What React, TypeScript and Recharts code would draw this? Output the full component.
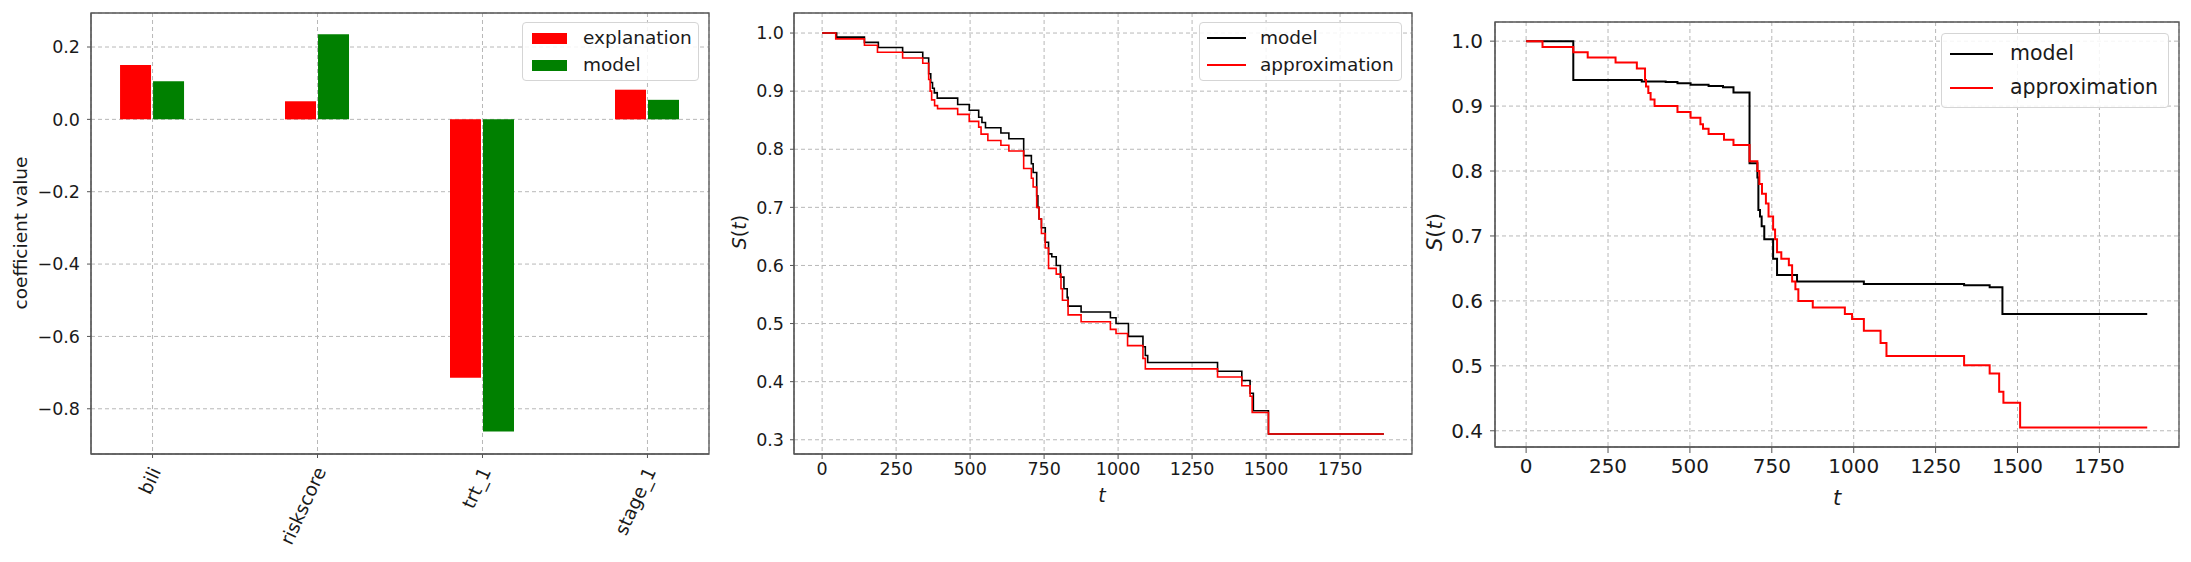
import React from 'react';
import { BarChart, Bar, LineChart, Line, XAxis, YAxis, CartesianGrid, Legend, ReferenceArea } from 'recharts';

const FONT = '"DejaVu Sans", Verdana, sans-serif';
const GRID = '#b8b8b8';
const FRAME = '#555555';
const TXT = '#1a1a1a';

// ---------- panel 1 : coefficients ----------
const featureNames = ['bili', 'riskscore', 'trt_1', 'stage_1'];
const explanationCoef = [0.15, 0.05, -0.714, 0.082];
const modelCoef = [0.105, 0.235, -0.863, 0.054];
const coefTicks = [-0.8, -0.6, -0.4, -0.2, 0.0, 0.2];

// ---------- shared time ticks ----------
const timeTicks = [0, 250, 500, 750, 1000, 1250, 1500, 1750];

// ---------- panel 2 : survival (model vs approximation) ----------
const midTicks = [0.3, 0.4, 0.5, 0.6, 0.7, 0.8, 0.9, 1.0];
const midModelT = [0, 49, 143, 190, 272, 340, 360, 367, 373, 379, 389, 458, 497, 529, 540, 552, 604, 631, 681, 707, 713, 725, 729, 733, 741, 754, 765, 776, 791, 805, 817, 828, 831, 875, 974, 993, 1035, 1084, 1092, 1100, 1336, 1418, 1446, 1457, 1508, 1898];
const midModelS = [1.0, 0.993, 0.984, 0.975, 0.967, 0.957, 0.93, 0.915, 0.905, 0.897, 0.888, 0.877, 0.867, 0.855, 0.846, 0.837, 0.828, 0.818, 0.789, 0.775, 0.76, 0.72, 0.70, 0.68, 0.665, 0.64, 0.62, 0.615, 0.60, 0.58, 0.56, 0.545, 0.53, 0.52, 0.51, 0.50, 0.478, 0.46, 0.445, 0.433, 0.418, 0.402, 0.38, 0.35, 0.31, 0.31];
const midApproxT = [0, 46, 143, 187, 272, 340, 360, 365, 370, 380, 390, 458, 497, 529, 537, 560, 604, 631, 681, 707, 713, 725, 733, 741, 754, 765, 791, 807, 812, 831, 875, 974, 993, 1032, 1084, 1092, 1336, 1418, 1446, 1453, 1508, 1898];
const midApproxS = [1.0, 0.99, 0.979, 0.967, 0.957, 0.948, 0.92, 0.90, 0.885, 0.875, 0.87, 0.86, 0.848, 0.838, 0.826, 0.815, 0.807, 0.797, 0.767, 0.75, 0.735, 0.70, 0.68, 0.655, 0.63, 0.595, 0.585, 0.56, 0.54, 0.515, 0.503, 0.49, 0.483, 0.462, 0.44, 0.422, 0.408, 0.393, 0.375, 0.347, 0.31, 0.31];

// ---------- panel 3 : survival (model vs approximation) ----------
const rightTicks = [0.4, 0.5, 0.6, 0.7, 0.8, 0.9, 1.0];
const rightModelT = [0, 144, 353, 426, 462, 502, 557, 601, 633, 682, 706, 709, 714, 719, 727, 754, 766, 827, 1031, 1337, 1415, 1454, 1896];
const rightModelS = [1.0, 0.94, 0.938, 0.937, 0.935, 0.933, 0.931, 0.929, 0.921, 0.812, 0.79, 0.74, 0.73, 0.715, 0.695, 0.665, 0.64, 0.63, 0.626, 0.624, 0.621, 0.58, 0.58];
const rightApproxT = [0, 50, 144, 188, 273, 338, 363, 366, 373, 380, 392, 462, 502, 532, 540, 557, 604, 633, 682, 706, 712, 720, 732, 740, 754, 760, 766, 779, 802, 812, 822, 831, 875, 973, 995, 1031, 1082, 1100, 1337, 1415, 1444, 1457, 1508, 1896];
const rightApproxS = [1.0, 0.991, 0.983, 0.975, 0.967, 0.958, 0.94, 0.93, 0.92, 0.91, 0.90, 0.891, 0.882, 0.872, 0.865, 0.857, 0.848, 0.84, 0.815, 0.80, 0.78, 0.765, 0.75, 0.73, 0.71, 0.695, 0.675, 0.665, 0.655, 0.63, 0.618, 0.60, 0.59, 0.58, 0.572, 0.554, 0.535, 0.515, 0.501, 0.488, 0.46, 0.443, 0.405, 0.405];

const zip = (t: number[], s: number[]) => t.map((v, i) => ({ t: v, s: s[i] }));
const coefRows = featureNames.map((name, i) => ({ idx: i, name, explanation: explanationCoef[i], model: modelCoef[i] }));

const fmt = (v: number) => (v < -1e-9 ? '\u2212' + Math.abs(v).toFixed(1) : Math.abs(v).toFixed(1));

const RotTick = (props: any) => {
  const { x, y, payload } = props;
  return (
    <text
      transform={`translate(${x + 9},${y + 9}) rotate(-65)`}
      textAnchor="end"
      fontFamily={FONT}
      fontSize={18.5}
      fill={TXT}
    >
      {featureNames[payload.value]}
    </text>
  );
};

type Item = { label: string; color: string; kind: 'rect' | 'line' };
const LegendBox = ({ left, top, width, height, items, fontSize, symX, symW, textX, rowY, lineW }: any) => (
  <div
    style={{
      position: 'absolute',
      left,
      top,
      width,
      height,
      boxSizing: 'border-box',
      border: '1px solid #d5d5d5',
      borderRadius: 4,
      background: 'rgba(255,255,255,0.85)',
      fontFamily: FONT,
      fontSize,
      color: TXT,
    }}
  >
    {items.map((it: Item, i: number) => (
      <React.Fragment key={it.label}>
        {it.kind === 'rect' ? (
          <div style={{ position: 'absolute', left: symX, top: rowY[i] - 5, width: symW, height: 11, background: it.color }} />
        ) : (
          <div style={{ position: 'absolute', left: symX, top: rowY[i] - lineW / 2, width: symW, height: lineW, background: it.color }} />
        )}
        <div style={{ position: 'absolute', left: textX, top: rowY[i] - fontSize * 0.62, lineHeight: `${fontSize * 1.2}px`, whiteSpace: 'nowrap' }}>
          {it.label}
        </div>
      </React.Fragment>
    ))}
  </div>
);

const tickStyle = (size: number) => ({ fill: TXT, fontSize: size, fontFamily: FONT });

const St = ({ x, y, size }: any) => (
  <text x={x} y={y} transform={`rotate(-90, ${x}, ${y})`} textAnchor="middle" dominantBaseline="central" fontFamily={FONT} fontSize={size} fill={TXT}>
    <tspan fontStyle="italic">S</tspan>(<tspan fontStyle="italic">t</tspan>)
  </text>
);

const P1X: [number, number] = [-0.373, 3.373];
const P1Y: [number, number] = [-0.925, 0.294];
const TX: [number, number] = [-95, 1993];
const P2Y: [number, number] = [0.2755, 1.0345];
const P3Y: [number, number] = [0.375, 1.0295];

export default function App() {
  return (
    <div style={{ position: 'absolute', left: 0, top: 0, width: 2191, height: 562, background: '#fff', overflow: 'hidden' }}>
      {/* Panel 1 */}
      <div style={{ position: 'absolute', left: 0, top: 0 }}>
        <BarChart width={720} height={562} data={coefRows} margin={{ top: 13, right: 11, left: 0, bottom: 0 }} barGap={2}>
          <CartesianGrid stroke={GRID} strokeDasharray="4 3" />
          <XAxis
            dataKey="idx"
            type="number"
            domain={P1X}
            ticks={[0, 1, 2, 3]}
            allowDataOverflow
            interval={0}
            height={108}
            tickSize={4}
            tickMargin={4}
            stroke={FRAME}
            tick={<RotTick />}
          />
          <YAxis
            type="number"
            domain={P1Y}
            ticks={coefTicks}
            allowDataOverflow
            width={91}
            tickSize={4}
            tickMargin={7}
            tickFormatter={fmt}
            stroke={FRAME}
            tick={tickStyle(17.5)}
            label={{
              content: () => (
                <text x={20} y={233} transform="rotate(-90, 20, 233)" textAnchor="middle" dominantBaseline="central" fontFamily={FONT} fontSize={18.5} fill={TXT}>
                  coefficient value
                </text>
              ),
            }}
          />
          <Bar dataKey="explanation" name="explanation" fill="#ff0000" barSize={31} isAnimationActive={false} />
          <Bar dataKey="model" name="model" fill="#008000" barSize={31} isAnimationActive={false} />
          <ReferenceArea x1={P1X[0]} x2={P1X[1]} y1={P1Y[0]} y2={P1Y[1]} fill="none" stroke={FRAME} strokeWidth={1.3} ifOverflow="visible" />
          <Legend
            layout="vertical"
            align="center"
            verticalAlign="middle"
            wrapperStyle={{ left: 0, top: 0, width: 0, height: 0 }}
            content={() => (
              <LegendBox
                left={522}
                top={22}
                width={177}
                height={59}
                fontSize={18.5}
                symX={9}
                symW={35}
                textX={60}
                rowY={[15, 42]}
                lineW={0}
                items={[
                  { label: 'explanation', color: '#ff0000', kind: 'rect' },
                  { label: 'model', color: '#008000', kind: 'rect' },
                ]}
              />
            )}
          />
        </BarChart>
      </div>

      {/* Panel 2 */}
      <div style={{ position: 'absolute', left: 720, top: 0 }}>
        <LineChart width={710} height={562} margin={{ top: 13, right: 18, left: 0, bottom: 0 }}>
          <CartesianGrid stroke={GRID} strokeDasharray="4 3" />
          <XAxis
            dataKey="t"
            type="number"
            domain={TX}
            ticks={timeTicks}
            allowDataOverflow
            interval={0}
            height={108}
            tickSize={5}
            tickMargin={4}
            stroke={FRAME}
            tick={tickStyle(17.5)}
            label={{
              content: () => (
                <text x={382} y={495} textAnchor="middle" dominantBaseline="central" fontFamily={FONT} fontStyle="italic" fontSize={19} fill={TXT}>
                  t
                </text>
              ),
            }}
          />
          <YAxis
            type="number"
            domain={P2Y}
            ticks={midTicks}
            allowDataOverflow
            interval={0}
            width={74}
            tickSize={4}
            tickMargin={6}
            tickFormatter={fmt}
            stroke={FRAME}
            tick={tickStyle(17.5)}
            label={{ content: () => <St x={19} y={232} size={19} /> }}
          />
          <Line data={zip(midModelT, midModelS)} dataKey="s" name="model" type="stepAfter" stroke="#000000" strokeWidth={1.6} dot={false} isAnimationActive={false} />
          <Line data={zip(midApproxT, midApproxS)} dataKey="s" name="approximation" type="stepAfter" stroke="#ff0000" strokeWidth={1.6} dot={false} isAnimationActive={false} />
          <ReferenceArea x1={TX[0]} x2={TX[1]} y1={P2Y[0]} y2={P2Y[1]} fill="none" stroke={FRAME} strokeWidth={1.3} ifOverflow="visible" />
          <Legend
            layout="vertical"
            align="center"
            verticalAlign="middle"
            wrapperStyle={{ left: 0, top: 0, width: 0, height: 0 }}
            content={() => (
              <LegendBox
                left={479}
                top={22}
                width={203}
                height={59}
                fontSize={18.5}
                symX={7}
                symW={39}
                textX={60}
                rowY={[15, 42]}
                lineW={1.6}
                items={[
                  { label: 'model', color: '#000000', kind: 'line' },
                  { label: 'approximation', color: '#ff0000', kind: 'line' },
                ]}
              />
            )}
          />
        </LineChart>
      </div>

      {/* Panel 3 */}
      <div style={{ position: 'absolute', left: 1420, top: 0 }}>
        <LineChart width={771} height={562} margin={{ top: 22, right: 12, left: 0, bottom: 0 }}>
          <CartesianGrid stroke={GRID} strokeDasharray="4 3" />
          <XAxis
            dataKey="t"
            type="number"
            domain={TX}
            ticks={timeTicks}
            allowDataOverflow
            interval={0}
            height={115}
            tickSize={6}
            tickMargin={6}
            stroke={FRAME}
            tick={tickStyle(20)}
            label={{
              content: () => (
                <text x={417} y={498} textAnchor="middle" dominantBaseline="central" fontFamily={FONT} fontStyle="italic" fontSize={21} fill={TXT}>
                  t
                </text>
              ),
            }}
          />
          <YAxis
            type="number"
            domain={P3Y}
            ticks={rightTicks}
            allowDataOverflow
            interval={0}
            width={75}
            tickSize={5}
            tickMargin={7}
            tickFormatter={fmt}
            stroke={FRAME}
            tick={tickStyle(20)}
            label={{ content: () => <St x={15} y={232} size={21} /> }}
          />
          <Line data={zip(rightModelT, rightModelS)} dataKey="s" name="model" type="stepAfter" stroke="#000000" strokeWidth={2} dot={false} isAnimationActive={false} />
          <Line data={zip(rightApproxT, rightApproxS)} dataKey="s" name="approximation" type="stepAfter" stroke="#ff0000" strokeWidth={2} dot={false} isAnimationActive={false} />
          <ReferenceArea x1={TX[0]} x2={TX[1]} y1={P3Y[0]} y2={P3Y[1]} fill="none" stroke={FRAME} strokeWidth={1.3} ifOverflow="visible" />
          <Legend
            layout="vertical"
            align="center"
            verticalAlign="middle"
            wrapperStyle={{ left: 0, top: 0, width: 0, height: 0 }}
            content={() => (
              <LegendBox
                left={521}
                top={33}
                width={228}
                height={75}
                fontSize={20.5}
                symX={8}
                symW={43}
                textX={68}
                rowY={[20, 54]}
                lineW={2.5}
                items={[
                  { label: 'model', color: '#000000', kind: 'line' },
                  { label: 'approximation', color: '#ff0000', kind: 'line' },
                ]}
              />
            )}
          />
        </LineChart>
      </div>
    </div>
  );
}
